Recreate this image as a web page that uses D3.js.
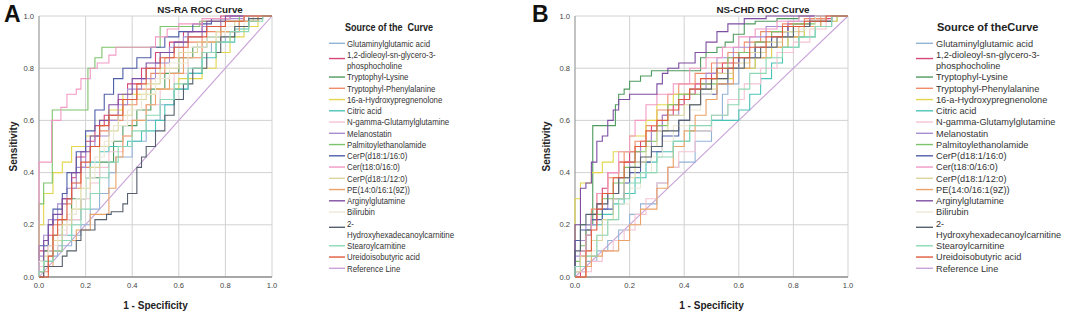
<!DOCTYPE html>
<html>
<head>
<meta charset="utf-8">
<script src="https://cdn.jsdelivr.net/npm/d3@7/dist/d3.min.js"></script>
<style>
  body { margin: 0; background: #fff; }
  svg { font-family: "Liberation Sans", Arial, sans-serif; }
</style>
</head>
<body>
<svg id="chart" width="1065" height="315"></svg>
<script>
// legend order, "\n" marks where the legend label wraps
const compounds = [
  "Glutaminylglutamic acid",
  "1,2-dioleoyl-sn-glycero-3-\nphosphocholine",
  "Tryptophyl-Lysine",
  "Tryptophyl-Phenylalanine",
  "16-a-Hydroxypregnenolone",
  "Citric acid",
  "N-gamma-Glutamylglutamine",
  "Melanostatin",
  "Palmitoylethanolamide",
  "CerP(d18:1/16:0)",
  "Cer(t18:0/16:0)",
  "CerP(d18:1/12:0)",
  "PE(14:0/16:1(9Z))",
  "Arginylglutamine",
  "Bilirubin",
  "2-\nHydroxyhexadecanoylcarnitine",
  "Stearoylcarnitine",
  "Ureidoisobutyric acid",
  "Reference Line"
];

const colors = [
  "#93b3d6", "#d8467a", "#4f9b5f", "#ef8c6a", "#e3d64c", "#4cc3b8",
  "#f5c4d2", "#a68dd2", "#7cc46a", "#4e5fa8", "#f29ac4", "#dcd69e",
  "#eba267", "#7e4ea3", "#ece8d6", "#56606e", "#8cd8b4", "#e05a3c",
  "#c9a3d9"
];

const axisTicks = [0, 0.2, 0.4, 0.6, 0.8, 1.0];

// ROC staircases: [1 - specificity, sensitivity] at the right end of each level
const rocA = [
  [[0.02,0],[0.04,0.04],[0.08,0.08],[0.14,0.12],[0.18,0.16],[0.22,0.2],[0.26,0.26],[0.3,0.32],[0.33,0.4],[0.4,0.46],[0.46,0.52],[0.52,0.6],[0.58,0.66],[0.64,0.72],[0.7,0.78],[0.74,0.86],[0.8,0.9],[0.86,0.94],[0.92,0.98],[1,1]],
  [[0,0.04],[0.04,0.1],[0.06,0.16],[0.1,0.22],[0.14,0.3],[0.16,0.38],[0.2,0.46],[0.24,0.52],[0.28,0.58],[0.34,0.62],[0.38,0.68],[0.44,0.74],[0.5,0.8],[0.56,0.86],[0.62,0.9],[0.7,0.94],[0.78,0.98],[0.9,1],[1,1]],
  [[0.02,0.04],[0.06,0.1],[0.1,0.16],[0.14,0.22],[0.2,0.3],[0.26,0.38],[0.32,0.44],[0.36,0.52],[0.42,0.58],[0.48,0.64],[0.54,0.72],[0.6,0.78],[0.66,0.84],[0.72,0.88],[0.78,0.92],[0.86,0.96],[0.94,0.98],[1,1]],
  [[0.04,0.02],[0.06,0.12],[0.1,0.2],[0.14,0.28],[0.18,0.34],[0.22,0.42],[0.26,0.5],[0.3,0.56],[0.36,0.6],[0.42,0.66],[0.48,0.72],[0.54,0.78],[0.62,0.84],[0.7,0.9],[0.78,0.94],[0.88,0.98],[1,1]],
  [[0,0.04],[0.02,0.2],[0.06,0.32],[0.1,0.4],[0.14,0.44],[0.2,0.5],[0.26,0.54],[0.3,0.6],[0.36,0.64],[0.5,0.7],[0.6,0.72],[0.7,0.76],[0.76,0.8],[0.82,0.86],[0.88,0.92],[0.94,0.96],[1,1]],
  [[0.02,0.02],[0.06,0.06],[0.1,0.1],[0.14,0.16],[0.18,0.22],[0.2,0.3],[0.22,0.38],[0.26,0.44],[0.3,0.48],[0.38,0.5],[0.44,0.52],[0.5,0.56],[0.54,0.6],[0.58,0.66],[0.64,0.72],[0.7,0.78],[0.76,0.84],[0.84,0.9],[0.9,0.95],[1,1]],
  [[0.04,0.04],[0.08,0.1],[0.12,0.16],[0.18,0.22],[0.22,0.3],[0.26,0.36],[0.3,0.42],[0.36,0.48],[0.4,0.54],[0.46,0.6],[0.52,0.66],[0.58,0.72],[0.64,0.78],[0.7,0.84],[0.78,0.9],[0.86,0.94],[0.94,0.98],[1,1]],
  [[0.02,0.08],[0.04,0.16],[0.08,0.22],[0.12,0.28],[0.16,0.34],[0.2,0.42],[0.24,0.5],[0.3,0.54],[0.34,0.6],[0.38,0.66],[0.44,0.72],[0.5,0.76],[0.56,0.82],[0.62,0.88],[0.7,0.92],[0.78,0.96],[0.88,0.99],[1,1]],
  [[0,0.1],[0.02,0.28],[0.057,0.36],[0.21,0.64],[0.24,0.8],[0.27,0.84],[0.52,0.88],[0.69,0.96],[0.86,0.98],[1,1]],
  [[0,0.06],[0.04,0.12],[0.06,0.2],[0.1,0.26],[0.12,0.32],[0.16,0.4],[0.2,0.48],[0.24,0.56],[0.28,0.64],[0.32,0.7],[0.36,0.76],[0.42,0.8],[0.48,0.84],[0.54,0.88],[0.6,0.92],[0.66,0.94],[0.74,0.97],[0.82,0.99],[1,1]],
  [[0.054,0.44],[0.094,0.6],[0.12,0.65],[0.16,0.7],[0.18,0.72],[0.22,0.76],[0.25,0.8],[0.3,0.82],[0.33,0.85],[0.5,0.88],[0.55,0.92],[0.6,0.95],[0.7,0.97],[0.82,0.99],[1,1]],
  [[0.02,0.02],[0.06,0.08],[0.1,0.14],[0.14,0.2],[0.18,0.26],[0.22,0.34],[0.26,0.42],[0.3,0.5],[0.34,0.56],[0.4,0.62],[0.46,0.68],[0.52,0.74],[0.6,0.8],[0.68,0.86],[0.76,0.9],[0.84,0.94],[0.92,0.98],[1,1]],
  [[0.02,0],[0.06,0.04],[0.1,0.1],[0.16,0.14],[0.22,0.18],[0.3,0.24],[0.33,0.34],[0.36,0.46],[0.4,0.54],[0.46,0.6],[0.5,0.66],[0.56,0.72],[0.62,0.78],[0.7,0.84],[0.78,0.9],[0.86,0.94],[0.94,0.98],[1,1]],
  [[0.02,0.06],[0.04,0.14],[0.06,0.2],[0.1,0.24],[0.14,0.3],[0.18,0.4],[0.22,0.48],[0.26,0.54],[0.3,0.6],[0.34,0.66],[0.4,0.7],[0.46,0.76],[0.52,0.82],[0.58,0.86],[0.64,0.9],[0.72,0.94],[0.8,0.98],[1,1]],
  [[0.04,0.06],[0.08,0.12],[0.12,0.18],[0.16,0.24],[0.2,0.3],[0.24,0.38],[0.28,0.46],[0.32,0.52],[0.38,0.58],[0.44,0.64],[0.5,0.7],[0.56,0.76],[0.64,0.82],[0.72,0.88],[0.8,0.92],[0.88,0.96],[1,1]],
  [[0.02,0],[0.1,0.04],[0.12,0.08],[0.16,0.1],[0.18,0.14],[0.24,0.18],[0.29,0.22],[0.31,0.24],[0.36,0.25],[0.38,0.28],[0.42,0.32],[0.44,0.42],[0.46,0.46],[0.5,0.5],[0.54,0.56],[0.58,0.62],[0.62,0.68],[0.66,0.74],[0.72,0.8],[0.78,0.86],[0.84,0.92],[0.9,0.96],[0.96,0.99],[1,1]],
  [[0.02,0.02],[0.06,0.06],[0.1,0.1],[0.14,0.14],[0.18,0.2],[0.22,0.26],[0.26,0.32],[0.3,0.38],[0.34,0.44],[0.4,0.5],[0.46,0.56],[0.52,0.62],[0.58,0.68],[0.64,0.74],[0.7,0.8],[0.76,0.86],[0.82,0.9],[0.9,0.94],[0.96,0.98],[1,1]],
  [[0.04,0],[0.06,0.08],[0.08,0.16],[0.12,0.22],[0.14,0.3],[0.18,0.36],[0.22,0.44],[0.26,0.5],[0.3,0.58],[0.36,0.62],[0.42,0.68],[0.46,0.74],[0.52,0.8],[0.58,0.84],[0.64,0.88],[0.72,0.92],[0.8,0.96],[0.88,0.98],[1,1]]
];

const rocB = [
  [[0.04,0.02],[0.08,0.06],[0.12,0.1],[0.16,0.14],[0.2,0.18],[0.24,0.24],[0.3,0.28],[0.34,0.36],[0.38,0.42],[0.44,0.44],[0.5,0.52],[0.54,0.6],[0.56,0.7],[0.6,0.74],[0.66,0.8],[0.72,0.84],[0.78,0.88],[0.84,0.92],[0.9,0.96],[0.96,0.98],[1,1]],
  [[0.02,0],[0.04,0.08],[0.06,0.16],[0.08,0.22],[0.1,0.28],[0.12,0.34],[0.16,0.4],[0.2,0.44],[0.24,0.48],[0.28,0.52],[0.32,0.58],[0.36,0.62],[0.4,0.66],[0.44,0.7],[0.5,0.74],[0.54,0.78],[0.6,0.82],[0.66,0.86],[0.72,0.9],[0.78,0.94],[0.86,0.97],[0.94,0.99],[1,1]],
  [[0.02,0.04],[0.065,0.2],[0.148,0.58],[0.16,0.66],[0.18,0.7],[0.2,0.72],[0.24,0.75],[0.28,0.77],[0.46,0.79],[0.48,0.84],[0.52,0.86],[0.55,0.88],[0.58,0.9],[0.62,0.93],[0.66,0.97],[0.74,0.98],[0.82,0.99],[1,1]],
  [[0.02,0.02],[0.04,0.1],[0.06,0.18],[0.08,0.26],[0.12,0.32],[0.16,0.38],[0.18,0.44],[0.22,0.48],[0.26,0.52],[0.3,0.58],[0.34,0.64],[0.38,0.7],[0.44,0.74],[0.5,0.78],[0.56,0.82],[0.62,0.86],[0.68,0.9],[0.76,0.94],[0.84,0.97],[0.92,0.99],[1,1]],
  [[0,0.04],[0.02,0.3],[0.06,0.36],[0.1,0.4],[0.14,0.44],[0.2,0.48],[0.26,0.54],[0.3,0.6],[0.36,0.66],[0.42,0.7],[0.5,0.72],[0.58,0.76],[0.66,0.8],[0.72,0.84],[0.78,0.88],[0.84,0.92],[0.9,0.96],[0.96,0.98],[1,1]],
  [[0.02,0.04],[0.04,0.1],[0.06,0.16],[0.1,0.2],[0.14,0.24],[0.18,0.28],[0.22,0.32],[0.26,0.38],[0.3,0.44],[0.36,0.48],[0.42,0.52],[0.5,0.56],[0.6,0.6],[0.64,0.64],[0.68,0.7],[0.72,0.76],[0.76,0.82],[0.82,0.88],[0.88,0.92],[0.94,0.96],[1,1]],
  [[0.06,0.02],[0.1,0.06],[0.14,0.1],[0.18,0.14],[0.22,0.18],[0.26,0.24],[0.3,0.3],[0.34,0.36],[0.38,0.42],[0.44,0.48],[0.5,0.56],[0.56,0.62],[0.62,0.68],[0.68,0.74],[0.74,0.8],[0.8,0.86],[0.86,0.9],[0.92,0.95],[1,1]],
  [[0.02,0.08],[0.04,0.14],[0.08,0.2],[0.12,0.26],[0.16,0.32],[0.2,0.38],[0.24,0.44],[0.28,0.5],[0.32,0.56],[0.38,0.62],[0.42,0.68],[0.48,0.72],[0.52,0.78],[0.58,0.84],[0.64,0.88],[0.7,0.92],[0.78,0.96],[0.86,0.98],[1,1]],
  [[0.02,0.06],[0.04,0.12],[0.06,0.18],[0.1,0.24],[0.14,0.3],[0.18,0.36],[0.22,0.42],[0.26,0.48],[0.3,0.52],[0.34,0.58],[0.38,0.66],[0.46,0.7],[0.52,0.74],[0.56,0.8],[0.6,0.84],[0.66,0.86],[0.72,0.9],[0.8,0.94],[0.88,0.97],[1,1]],
  [[0,0.08],[0.02,0.14],[0.06,0.18],[0.1,0.22],[0.14,0.26],[0.18,0.3],[0.2,0.36],[0.24,0.4],[0.28,0.44],[0.32,0.48],[0.38,0.54],[0.42,0.6],[0.46,0.66],[0.52,0.7],[0.56,0.74],[0.6,0.8],[0.66,0.84],[0.72,0.88],[0.78,0.92],[0.86,0.96],[0.94,0.98],[1,1]],
  [[0.02,0.04],[0.04,0.1],[0.06,0.16],[0.08,0.24],[0.12,0.32],[0.16,0.4],[0.2,0.48],[0.22,0.54],[0.26,0.6],[0.3,0.66],[0.36,0.7],[0.42,0.74],[0.48,0.8],[0.54,0.84],[0.6,0.88],[0.66,0.92],[0.74,0.95],[0.82,0.98],[1,1]],
  [[0.02,0.02],[0.06,0.08],[0.1,0.14],[0.14,0.22],[0.18,0.3],[0.22,0.38],[0.26,0.44],[0.3,0.5],[0.34,0.56],[0.4,0.62],[0.46,0.66],[0.52,0.72],[0.58,0.78],[0.64,0.82],[0.7,0.86],[0.76,0.9],[0.84,0.94],[0.92,0.98],[1,1]],
  [[0.04,0],[0.06,0.04],[0.1,0.08],[0.16,0.1],[0.2,0.14],[0.24,0.2],[0.3,0.26],[0.34,0.34],[0.36,0.42],[0.4,0.5],[0.44,0.56],[0.48,0.62],[0.52,0.68],[0.58,0.74],[0.64,0.8],[0.7,0.84],[0.76,0.88],[0.82,0.92],[0.9,0.96],[1,1]],
  [[0,0.12],[0.02,0.2],[0.04,0.34],[0.06,0.36],[0.08,0.44],[0.1,0.52],[0.12,0.54],[0.14,0.6],[0.16,0.64],[0.2,0.68],[0.3,0.7],[0.32,0.74],[0.34,0.78],[0.38,0.8],[0.44,0.82],[0.48,0.86],[0.52,0.9],[0.56,0.94],[0.62,0.97],[0.7,0.99],[1,1]],
  [[0.04,0.04],[0.08,0.1],[0.12,0.16],[0.16,0.22],[0.2,0.28],[0.24,0.34],[0.28,0.4],[0.32,0.46],[0.36,0.52],[0.42,0.58],[0.46,0.64],[0.5,0.7],[0.56,0.76],[0.62,0.8],[0.68,0.84],[0.74,0.88],[0.8,0.92],[0.88,0.95],[1,1]],
  [[0,0.04],[0.02,0.1],[0.04,0.2],[0.08,0.24],[0.12,0.28],[0.16,0.32],[0.2,0.38],[0.24,0.42],[0.28,0.46],[0.32,0.5],[0.38,0.56],[0.42,0.6],[0.46,0.66],[0.5,0.72],[0.56,0.76],[0.62,0.8],[0.68,0.84],[0.74,0.88],[0.8,0.92],[0.86,0.96],[0.94,0.98],[1,1]],
  [[0.04,0.04],[0.08,0.08],[0.12,0.16],[0.16,0.22],[0.2,0.3],[0.24,0.36],[0.3,0.4],[0.36,0.46],[0.42,0.52],[0.5,0.58],[0.56,0.62],[0.6,0.66],[0.64,0.72],[0.7,0.78],[0.76,0.84],[0.82,0.88],[0.88,0.92],[0.94,0.96],[1,1]],
  [[0.04,0],[0.06,0.1],[0.08,0.18],[0.1,0.26],[0.14,0.32],[0.18,0.38],[0.22,0.44],[0.26,0.5],[0.3,0.56],[0.34,0.6],[0.38,0.64],[0.42,0.68],[0.46,0.72],[0.52,0.76],[0.58,0.8],[0.64,0.84],[0.7,0.88],[0.76,0.92],[0.84,0.96],[0.92,0.98],[1,1]]
];

const referenceLine = [[0, 0], [1, 1]];

const panels = [
  {letter: "A", title: "NS-RA ROC Curve", data: rocA, left: 39, right: 272, top: 16, bottom: 277,
   titleX: 200, yTitleX: 13, legendX: 329, legendTitle: "Source of the  Curve", textScale: 0.82, fontSize: 9.6},
  {letter: "B", title: "NS-CHD ROC Curve", data: rocB, left: 575, right: 848, top: 16, bottom: 277,
   titleX: 763, yTitleX: 546, legendX: 916, legendTitle: "Source of theCurve", textScale: 1, fontSize: 9.2}
];

const svg = d3.select("#chart");

panels.forEach(function(p) {
  let x = d3.scaleLinear().domain([0, 1]).range([p.left, p.right]);
  let y = d3.scaleLinear().domain([0, 1]).range([p.bottom, p.top]);
  let g = svg.append("g");

  // grid
  g.selectAll(".gx")
    .data(axisTicks.slice(1))
    .join("line")
      .attr("x1", d => x(d)).attr("x2", d => x(d))
      .attr("y1", y(0)).attr("y2", y(1))
      .attr("stroke", "#d2d2d2").attr("stroke-width", 1);
  g.selectAll(".gy")
    .data(axisTicks.slice(1))
    .join("line")
      .attr("x1", x(0)).attr("x2", x(1))
      .attr("y1", d => y(d)).attr("y2", d => y(d))
      .attr("stroke", "#d2d2d2").attr("stroke-width", 1);

  // axes lines
  g.append("line")
    .attr("x1", x(0)).attr("x2", x(0)).attr("y1", y(0)).attr("y2", y(1))
    .attr("stroke", "#9a9a9a").attr("stroke-width", 1.2);
  g.append("line")
    .attr("x1", x(0)).attr("x2", x(1)).attr("y1", y(0)).attr("y2", y(0))
    .attr("stroke", "#8a8a8a").attr("stroke-width", 1.4);

  // tick labels
  g.selectAll(".tx")
    .data(axisTicks)
    .join("text")
      .attr("x", d => x(d)).attr("y", y(0) + 11)
      .attr("text-anchor", "middle")
      .attr("font-size", 7.6).attr("fill", "#444")
      .text(d3.format(".1f"));
  g.selectAll(".ty")
    .data(axisTicks)
    .join("text")
      .attr("x", x(0) - 5).attr("y", d => y(d) + 2.5)
      .attr("text-anchor", "end")
      .attr("font-size", 7.6).attr("fill", "#444")
      .text(d3.format(".1f"));

  // curves
  let line = d3.line()
    .x(d => x(d[0]))
    .y(d => y(d[1]))
    .curve(d3.curveStepBefore);

  g.append("path")
    .attr("d", d3.line().x(d => x(d[0])).y(d => y(d[1]))(referenceLine))
    .attr("fill", "none")
    .attr("stroke", colors[18])
    .attr("stroke-width", 1.1);

  g.selectAll(".roc")
    .data(p.data)
    .join("path")
      .attr("d", d => line([[0, 0]].concat(d)))
      .attr("fill", "none")
      .attr("stroke", (d, i) => colors[i])
      .attr("stroke-width", 1.1);

  // titles
  svg.append("text")
    .attr("x", p.titleX).attr("y", 13)
    .attr("text-anchor", "middle")
    .attr("font-size", 9.8).attr("font-weight", "bold").attr("fill", "#222")
    .text(p.title);
  svg.append("text")
    .attr("x", (p.left + p.right) / 2).attr("y", 309)
    .attr("text-anchor", "middle")
    .attr("font-size", 10).attr("font-weight", "bold").attr("fill", "#222")
    .text("1 - Specificity");
  svg.append("text")
    .attr("transform", `translate(${p.yTitleX + 3.5}, ${(p.top + p.bottom) / 2}) rotate(-90)`)
    .attr("text-anchor", "middle")
    .attr("font-size", 10).attr("font-weight", "bold").attr("fill", "#222")
    .text("Sensitivity");
  svg.append("text")
    .attr("x", p.letter === "A" ? 4 : 532).attr("y", 22)
    .attr("font-size", 23).attr("font-weight", "bold").attr("fill", "#111")
    .text(p.letter);

  // legend
  let lg = svg.append("g").attr("transform", `translate(${p.legendX}, 0)`);
  lg.append("text")
    .attr("transform", `translate(${p.textScale < 1 ? 16 : 21}, 31) scale(${p.textScale}, 1)`)
    .attr("font-size", 11).attr("font-weight", "bold").attr("fill", "#222")
    .style("white-space", "pre")
    .text(p.legendTitle);

  let row = 0;
  let rowH = 11.25;
  compounds.forEach(function(name, i) {
    let parts = name.split("\n");
    let yy = 43.3 + row * rowH;
    lg.append("line")
      .attr("x1", 0).attr("x2", p.textScale < 1 ? 16 : 17)
      .attr("y1", yy + (parts.length > 1 ? 4 : 0))
      .attr("y2", yy + (parts.length > 1 ? 4 : 0))
      .attr("stroke", colors[i]).attr("stroke-width", 1.4);
    parts.forEach(function(t, k) {
      lg.append("text")
        .attr("transform", `translate(${p.textScale < 1 ? 18 : 20}, ${yy + k * rowH + 3.3}) scale(${p.textScale}, 1)`)
        .attr("font-size", p.fontSize).attr("fill", "#333")
        .text(t);
    });
    row += parts.length;
  });
});
</script>
</body>
</html>
